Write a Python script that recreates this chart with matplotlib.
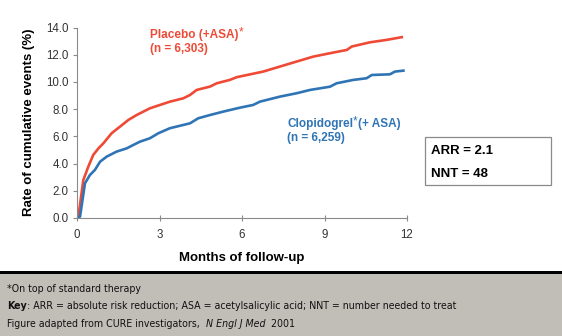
import matplotlib.pyplot as plt
from matplotlib.patches import Rectangle

plt.rcParams['font.family'] = ['Liberation Sans', 'DejaVu Sans']

# cumulative event curves (months, %)
placebo_months = [0, 0.05, 0.23, 0.41, 0.59, 0.78, 0.96, 1.26, 1.56, 1.87, 2.17, 2.65,
                  3.02, 3.38, 3.87, 4.11, 4.35, 4.84, 5.08, 5.56, 5.81, 6.77, 7.38,
                  7.99, 8.59, 9.2, 9.81, 9.99, 10.65, 11.26, 11.81]
placebo_rate = [0, 0.1, 2.79, 3.77, 4.63, 5.12, 5.49, 6.23, 6.71, 7.21, 7.57, 8.06,
                8.31, 8.55, 8.8, 9.04, 9.41, 9.66, 9.9, 10.15, 10.35, 10.76, 11.13,
                11.5, 11.86, 12.11, 12.35, 12.6, 12.91, 13.09, 13.29]

clopi_months = [0, 0.11, 0.29, 0.47, 0.65, 0.84, 1.08, 1.44, 1.81, 2.05, 2.29, 2.65,
                2.96, 3.38, 3.87, 4.11, 4.41, 4.84, 5.32, 5.93, 6.41, 6.65, 7.38,
                7.99, 8.47, 9.2, 9.44, 10.05, 10.53, 10.72, 11.38, 11.56, 11.87]
clopi_rate = [0, 0.1, 2.55, 3.16, 3.53, 4.14, 4.51, 4.88, 5.12, 5.37, 5.61, 5.86,
              6.23, 6.6, 6.84, 6.96, 7.33, 7.57, 7.82, 8.11, 8.31, 8.55, 8.92,
              9.17, 9.41, 9.65, 9.9, 10.15, 10.27, 10.51, 10.56, 10.76, 10.83]

x_ticks = [0, 3, 6, 9, 12]
y_ticks = [0, 2, 4, 6, 8, 10, 12, 14]

W, H = 562, 336
red = '#EE4A36'
blue = '#2F74B5'


def px(x, y):
    # pixel position -> figure fraction
    return x / W, 1 - y / H


fig = plt.figure(figsize=(W / 100, H / 100), dpi=100)
ax = fig.add_axes([77 / W, 1 - 218 / H, 330 / W, 190.5 / H])

ax.plot(placebo_months, placebo_rate, color=red, lw=1.9, solid_joinstyle='round')
ax.plot(clopi_months, clopi_rate, color=blue, lw=1.9, solid_joinstyle='round')

ax.set_xlim(0, 12)
ax.set_ylim(0, 14)
ax.set_xticks(x_ticks)
ax.set_yticks(y_ticks)
ax.set_yticklabels([f'{v:.1f}' for v in y_ticks])
for s in ['top', 'right']:
    ax.spines[s].set_visible(False)
for s in ['left', 'bottom']:
    ax.spines[s].set_color('#8a8a8a')
    ax.spines[s].set_linewidth(0.8)
ax.tick_params(axis='y', length=3, width=0.8, color='#8a8a8a', labelsize=8.3,
               labelcolor='#333333', pad=3)
ax.tick_params(axis='x', direction='inout', length=4, width=0.8, color='#8a8a8a',
               labelsize=8.3, labelcolor='#333333', pad=6)
ax.set_xlabel('Months of follow-up', fontsize=9.5, fontweight='bold', labelpad=8)
ax.set_ylabel('Rate of cumulative events (%)', fontsize=9.5, fontweight='bold', labelpad=8)

renderer = fig.canvas.get_renderer()


def chain(x, y, parts, **kw):
    # put text pieces one after another on the same line; extra may hold a dy in pixels
    for s, extra in parts:
        extra = dict(extra)
        dy = extra.pop('dy', 0)
        t = fig.text(*px(x, y - dy), s, va='center', **{**kw, **extra})
        x += t.get_window_extent(renderer).width
    return x


# series labels
lab = dict(fontsize=8.5, fontweight='bold')
chain(150, 35, [('Placebo (+ASA)', {}), ('*', {'dy': 3, 'fontweight': 'normal'})],
      color=red, **lab)
fig.text(*px(150, 49), '(n = 6,303)', color=red, va='center', **lab)
chain(287, 124, [('Clopidogrel', {}), ('*', {'dy': 3, 'fontweight': 'normal'}),
                 ('(+ ASA)', {})], color=blue, **lab)
fig.text(*px(287, 138), '(n = 6,259)', color=blue, va='center', **lab)

# ARR / NNT box
bx0, by0 = px(425, 185)
bx1, by1 = px(551, 137)
fig.patches.append(Rectangle((bx0, by0), bx1 - bx0, by1 - by0, transform=fig.transFigure,
                             facecolor='white', edgecolor='#8a8a8a', lw=0.9))
fig.text(*px(431, 151), 'ARR = 2.1', fontsize=9.5, fontweight='bold', va='center')
fig.text(*px(431, 174), 'NNT = 48', fontsize=9.5, fontweight='bold', va='center')

# footer band
fx, fy = px(0, 336)
fig.patches.append(Rectangle((fx, fy), 1, 62 / H, transform=fig.transFigure,
                             facecolor='#C1BDB7', edgecolor='none'))
lx, ly = px(0, 273.5)
fig.patches.append(Rectangle((lx, ly), 1, 2.2 / H, transform=fig.transFigure,
                             facecolor='black', edgecolor='none'))

foot = dict(family='DejaVu Sans', fontstretch='condensed', fontsize=7.6, color='#111111')
fig.text(*px(7, 289), '*On top of standard therapy', va='center', **foot)
chain(7, 306, [('Key', {'fontweight': 'bold'}),
               (': ARR = absolute risk reduction; ASA = acetylsalicylic acid; '
                'NNT = number needed to treat', {})], **foot)
chain(7, 324, [('Figure adapted from CURE investigators,  ', {}),
               ('N Engl J Med', {'style': 'italic'}), ('  2001', {})], **foot)

fig.savefig('out.png', dpi=100)
